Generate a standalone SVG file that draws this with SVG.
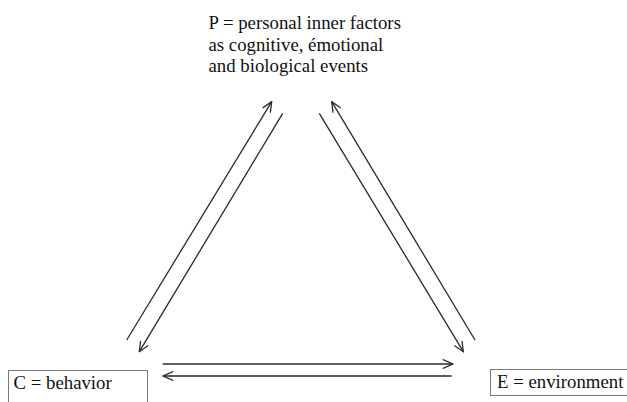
<svg xmlns="http://www.w3.org/2000/svg" width="627" height="402" viewBox="0 0 627 402">
<style>
text{font-family:"Liberation Serif","DejaVu Serif",serif;font-size:18.8px;fill:#111}
.box{fill:#fff;stroke:#7a7a7a;stroke-width:1}
.conn line{stroke:#2a2a2a;stroke-width:1.3;fill:none}
.conn .arr{marker-end:url(#open)}
</style>
<defs>
<marker id="open" viewBox="0 0 12 10" refX="11" refY="5" markerWidth="12" markerHeight="10" markerUnits="userSpaceOnUse" orient="auto">
<path d="M1,0.5 L11,5 L1,9.5" fill="none" stroke="#2a2a2a" stroke-width="1.3"/>
</marker>
</defs>
<rect width="627" height="402" fill="#fff"/>
<g id="node-P">
<text x="208.5" y="29">P = personal inner factors</text>
<text x="208.5" y="50.5">as cognitive, émotional</text>
<text x="208.5" y="72">and biological events</text>
</g>
<g id="node-C">
<rect class="box" x="8.5" y="370.5" width="139" height="40"/>
<text x="13.5" y="389">C = behavior</text>
</g>
<g id="node-E">
<rect class="box" x="490.5" y="369.5" width="150" height="26"/>
<text x="497" y="388">E = environment</text>
</g>
<g id="connectors" class="conn">
<line class="arr" x1="126.7" y1="340" x2="271.7" y2="101.7"/>
<line class="arr" x1="282.7" y1="113.3" x2="139.3" y2="351.7"/>
<line class="arr" x1="475" y1="340" x2="331.7" y2="101.7"/>
<line class="arr" x1="319.3" y1="113.3" x2="463.3" y2="351.7"/>
<line class="arr" x1="162.7" y1="364" x2="452.7" y2="364"/>
<line class="arr" x1="451.7" y1="376" x2="163.3" y2="376"/>
</g>
</svg>
